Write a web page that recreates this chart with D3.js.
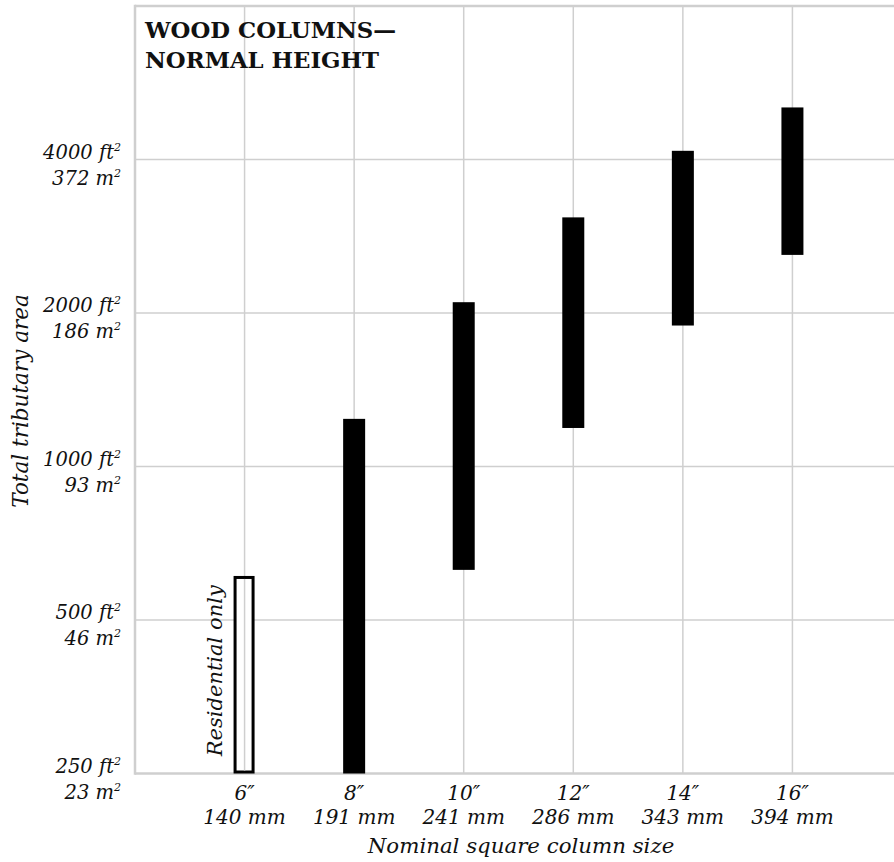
<!DOCTYPE html>
<html>
<head>
<meta charset="utf-8">
<script src="https://cdn.jsdelivr.net/npm/d3@7"></script>
<style>
  html, body { margin: 0; padding: 0; background: #fff; }
  svg { display: block; }
  text { font-family: "DejaVu Serif", serif; fill: #111; }
  .it { font-style: italic; }
</style>
</head>
<body>
<svg id="chart" width="894" height="862"></svg>
<script>
// Column sizes (inches) and their metric labels
const sizes = [6, 8, 10, 12, 14, 16];
const sizeLabels = ["6″", "8″", "10″", "12″", "14″", "16″"];
const metricLabels = ["140 mm", "191 mm", "241 mm", "286 mm", "343 mm", "394 mm"];

// Tributary area ranges served by each column size (ft²)
const areaLow  = [250, 250, 627, 1190, 1890, 2600];
const areaHigh = [610, 1240, 2100, 3080, 4160, 5060];
// Only the 6" column is limited to residential use
const residentialOnly = [true, false, false, false, false, false];

// Gridline values on the area axis
const areaTicks = [250, 500, 1000, 2000, 4000];
const areaTickFt = ["250 ft", "500 ft", "1000 ft", "2000 ft", "4000 ft"];
const areaTickM  = ["23 m", "46 m", "93 m", "186 m", "372 m"];

const svg = d3.select("#chart");

const x = d3.scaleLinear().domain([4, 18]).range([135, 902]);
const y = d3.scaleLog().base(2).domain([250, 8000]).range([773.5, 6]);

const grid = "#cfcfcf";

// vertical gridlines
svg.append("g").selectAll("line").data(sizes).join("line")
  .attr("x1", d => x(d)).attr("x2", d => x(d))
  .attr("y1", y(8000)).attr("y2", y(250))
  .attr("stroke", grid).attr("stroke-width", 1.5);

// horizontal gridlines
svg.append("g").selectAll("line").data(areaTicks.slice(1)).join("line")
  .attr("x1", x(4)).attr("x2", 894)
  .attr("y1", d => y(d)).attr("y2", d => y(d))
  .attr("stroke", grid).attr("stroke-width", 1.5);

// plot frame: left, top, bottom
const frame = svg.append("g").attr("stroke", grid).attr("stroke-width", 2.5).attr("fill", "none");
frame.append("line").attr("x1", x(4)).attr("x2", x(4)).attr("y1", y(8000) - 1.2).attr("y2", y(250) + 1.2);
frame.append("line").attr("x1", x(4)).attr("x2", 894).attr("y1", y(8000)).attr("y2", y(8000));
frame.append("line").attr("x1", x(4)).attr("x2", 894).attr("y1", y(250)).attr("y2", y(250));

// column bars
const barW = 22;
const rows = sizes.map((s, i) => ({ s, lo: areaLow[i], hi: areaHigh[i], res: residentialOnly[i] }));
svg.append("g").selectAll("rect").data(rows).join("rect")
  .attr("x", d => x(d.s) - barW / 2 + (d.res ? 1.5 : 0))
  .attr("width", d => d.res ? barW - 4 : barW)
  .attr("y", d => y(d.hi) + (d.res ? 1.5 : 0))
  .attr("height", d => y(d.lo) - y(d.hi) - (d.res ? 3 : 0))
  .attr("fill", d => d.res ? "#fff" : "#000")
  .attr("stroke", "#000")
  .attr("stroke-width", d => d.res ? 3 : 0);

// a thin gridline shows through the hollow bar
svg.append("line")
  .attr("x1", x(6)).attr("x2", x(6))
  .attr("y1", y(areaHigh[0]) + 3).attr("y2", y(250) - 3)
  .attr("stroke", grid).attr("stroke-width", 1.5);

// label beside the residential-only column
const r0 = rows[0];
svg.append("text").attr("class", "it")
  .attr("transform", `translate(${x(6) - 23},${(y(r0.lo) + y(r0.hi)) / 2 - 4}) rotate(-90)`)
  .attr("text-anchor", "middle")
  .attr("font-size", 21)
  .text("Residential only");

// area axis labels (ft² line on the gridline, m² line below)
const yl = svg.append("g").attr("class", "it").attr("font-size", 19.5).attr("text-anchor", "end");
areaTicks.forEach((v, i) => {
  const t1 = yl.append("text").attr("x", 121).attr("y", y(v) - 1);
  t1.append("tspan").text(areaTickFt[i]);
  t1.append("tspan").attr("font-size", 11).attr("dy", -8).text("2");
  const t2 = yl.append("text").attr("x", 121).attr("y", y(v) + 25);
  t2.append("tspan").text(areaTickM[i]);
  t2.append("tspan").attr("font-size", 11).attr("dy", -8).text("2");
});

// size axis labels
const xl = svg.append("g").attr("class", "it").attr("font-size", 20).attr("text-anchor", "middle");
sizes.forEach((s, i) => {
  xl.append("text").attr("x", x(s)).attr("y", 800).text(sizeLabels[i]);
  xl.append("text").attr("x", x(s)).attr("y", 824).text(metricLabels[i]);
});

// axis titles
svg.append("text").attr("class", "it")
  .attr("x", 521).attr("y", 853)
  .attr("text-anchor", "middle").attr("font-size", 21.3)
  .text("Nominal square column size");

svg.append("text").attr("class", "it")
  .attr("transform", "translate(28,401) rotate(-90)")
  .attr("text-anchor", "middle").attr("font-size", 21.5)
  .text("Total tributary area");

// chart title
const title = svg.append("g").attr("font-size", 22.8).attr("font-weight", "bold");
title.append("text").attr("x", 145).attr("y", 38).text("WOOD COLUMNS—");
title.append("text").attr("x", 145).attr("y", 68).text("NORMAL HEIGHT");
</script>
</body>
</html>
